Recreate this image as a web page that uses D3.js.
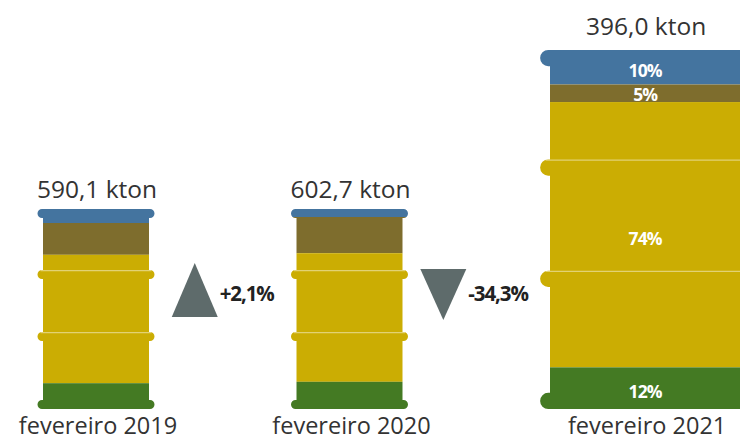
<!DOCTYPE html>
<html>
<head>
<meta charset="utf-8">
<script src="https://cdn.jsdelivr.net/npm/d3@7/dist/d3.min.js"></script>
<style>
  html, body { margin: 0; padding: 0; background: #ffffff; }
  svg { display: block; font-family: "Open Sans", "Noto Sans", sans-serif; }
</style>
</head>
<body>
<svg id="chart" width="740" height="441"></svg>
<script>
// Monthly volume per period (kton) and its split into four product groups (% of total)
const categories = ["fevereiro 2019", "fevereiro 2020", "fevereiro 2021"];
const totals = [590.1, 602.7, 396.0];
const shareTop = [7.0, 4.0, 9.6];
const shareSecond = [15.9, 18.1, 4.9];
const shareMain = [64.2, 64.3, 73.9];
const shareBase = [12.9, 13.6, 11.6];
const showShareLabels = [false, false, true];

const seriesKeys = ["top", "second", "main", "base"];
const seriesColors = { top: "#44749f", second: "#7e6d2d", main: "#cbad03", base: "#447a23" };

const rows = categories.map((c, i) => ({
  category: c,
  total: totals[i],
  top: shareTop[i],
  second: shareSecond[i],
  main: shareMain[i],
  base: shareBase[i],
  labelled: showShareLabels[i]
}));

// Barrel geometry (base barrel, scaled per period)
const layout = {
  firstLeft: 43,
  gap: 147.5,
  bottom: 409,
  baseWidth: 106,
  baseHeight: 200,
  scale: [1, 1, 1.795],
  rimOver: 5.5,
  rimH: 9,
  hoopH: 9,
  hoopAt: [0.305, 0.615]
};

const svg = d3.select("#chart");
const defs = svg.append("defs");

const fmtNum = d3.formatLocale({ decimal: ",", thousands: ".", grouping: [3], currency: ["", ""] });
const fmtTotal = fmtNum.format(".1f");
const fmtChange = fmtNum.format("+.1%");
const fmtShare = v => Math.round(v) + "%";

// Compute barrel boxes
let cursor = layout.firstLeft;
const boxes = rows.map((r, i) => {
  const s = layout.scale[i];
  const w = layout.baseWidth * s;
  const h = layout.baseHeight * s;
  const box = { x: cursor, w, top: layout.bottom - h, bottom: layout.bottom, s };
  cursor += w + layout.gap;
  return box;
});

const stack = d3.stack().keys(seriesKeys);
const stacked = stack(rows);

rows.forEach((r, i) => {
  const b = boxes[i];
  const s = b.s;
  const over = layout.rimOver * s;
  const rimH = layout.rimH * s;
  const hoopH = layout.hoopH * s;

  // share 0..100 from top of barrel to bottom
  const y = d3.scaleLinear().domain([0, 100]).range([b.top, b.bottom]);

  // barrel silhouette
  const clipId = "barrel-" + i;
  const clip = defs.append("clipPath").attr("id", clipId);
  clip.append("rect")
    .attr("x", b.x).attr("y", b.top + rimH / 2)
    .attr("width", b.w).attr("height", b.bottom - b.top - rimH);
  const pills = [b.top, b.bottom - rimH].concat(layout.hoopAt.map(f => y(f * 100)));
  pills.forEach((py, k) => {
    const ph = k < 2 ? rimH : hoopH;
    clip.append("rect")
      .attr("x", b.x - over).attr("y", py)
      .attr("width", b.w + 2 * over).attr("height", ph)
      .attr("rx", ph / 2).attr("ry", ph / 2);
  });

  const g = svg.append("g").attr("clip-path", `url(#${clipId})`);
  stacked.forEach(layer => {
    const d = layer[i];
    g.append("rect")
      .attr("x", b.x - over - 1)
      .attr("y", y(d[0]))
      .attr("width", b.w + 2 * over + 2)
      .attr("height", y(d[1]) - y(d[0]))
      .attr("fill", seriesColors[layer.key]);
  });

  // hoop highlight lines
  layout.hoopAt.forEach(f => {
    const hy = y(f * 100) + 0.6;
    g.append("line")
      .attr("x1", b.x - over + 3 * s).attr("x2", b.x + b.w + over - 3 * s)
      .attr("y1", hy).attr("y2", hy)
      .attr("stroke", "rgba(255,255,255,0.45)")
      .attr("stroke-width", 1.3);
  });

  // share labels
  if (r.labelled) {
    stacked.forEach(layer => {
      const d = layer[i];
      const v = d[1] - d[0];
      const cy = (y(d[0]) + y(d[1])) / 2 + (v > 8 ? 3 : 1);
      svg.append("text")
        .attr("x", b.x + b.w / 2)
        .attr("y", cy)
        .attr("text-anchor", "middle")
        .attr("dominant-baseline", "central")
        .attr("font-size", 17.5)
        .attr("font-weight", 700)
        .attr("letter-spacing", -0.9)
        .attr("fill", "#ffffff")
        .text(fmtShare(v));
    });
  }

  // total above the barrel
  svg.append("text")
    .attr("x", b.x + b.w / 2 + 1)
    .attr("y", b.top - (6 + 5 * s))
    .attr("text-anchor", "middle")
    .attr("font-size", 24.5)
    .attr("fill", "#333333")
    .text(fmtTotal(r.total) + " kton");

  // period label below
  svg.append("text")
    .attr("x", b.x + b.w / 2 + 2)
    .attr("y", 434)
    .attr("text-anchor", "middle")
    .attr("font-size", 23.5)
    .attr("fill", "#333333")
    .text(r.category);
});

// change indicators between consecutive periods
for (let i = 1; i < rows.length; i++) {
  const prev = boxes[i - 1], cur = boxes[i];
  const mid = ((prev.x + prev.w + layout.rimOver * prev.s) + (cur.x - layout.rimOver * cur.s)) / 2;
  const change = rows[i].total / rows[i - 1].total - 1;
  const up = change >= 0;
  const g = svg.append("g");
  const label = g.append("text")
    .attr("y", 301)
    .attr("font-size", 20.5)
    .attr("font-weight", 700)
    .attr("letter-spacing", -1.1)
    .attr("fill", "#222222")
    .text(fmtChange(change).replace("−", "-"));
  const tw = label.node().getComputedTextLength();
  const triW = 46, triGap = 2;
  const left = mid - (triW + triGap + tw) / 2;
  const cx = left + triW / 2;
  const pts = up
    ? [[cx, 263], [left, 317], [left + triW, 317]]
    : [[left, 269], [left + triW, 269], [cx, 320]];
  g.insert("path", "text")
    .attr("d", d3.line()(pts) + "Z")
    .attr("fill", "#5e6b6b");
  label.attr("x", left + triW + triGap);
}
</script>
</body>
</html>
